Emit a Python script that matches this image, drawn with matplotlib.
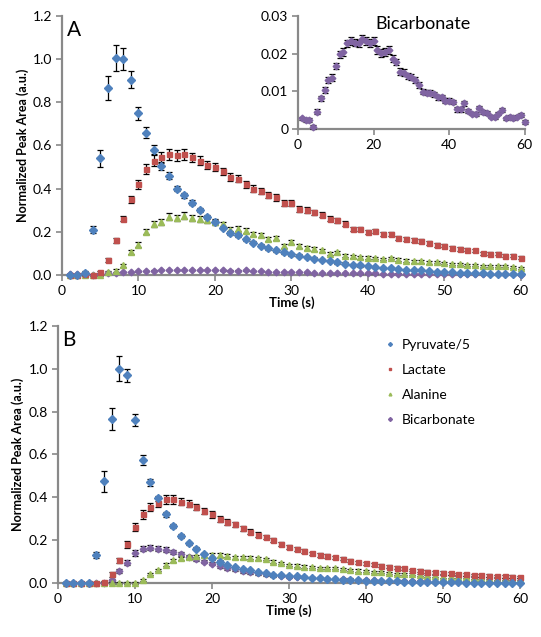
import numpy as np
import matplotlib.pyplot as plt
from matplotlib.lines import Line2D

plt.rcParams['font.family'] = ['Lato', 'DejaVu Sans']

# %% data
tt = np.arange(1, 61)

# panel A
pyr_A = [0.0, 0.0, 0.01, 0.21, 0.54, 0.865, 1.005, 1.0, 0.905, 0.75,
         0.66, 0.58, 0.505, 0.46, 0.40, 0.37, 0.335, 0.30, 0.27, 0.245,
         0.22, 0.195, 0.185, 0.165, 0.15, 0.135, 0.125, 0.115, 0.105, 0.097,
         0.09, 0.083, 0.076, 0.07, 0.064, 0.058, 0.053, 0.048, 0.044, 0.040,
         0.037, 0.034, 0.031, 0.028, 0.025, 0.023, 0.021, 0.018, 0.015, 0.013,
         0.012, 0.011, 0.009, 0.008, 0.007, 0.006, 0.005, 0.004, 0.004, 0.003]
pyr_A_err = [0.004, 0.004, 0.008, 0.015, 0.04, 0.055, 0.062, 0.05, 0.04, 0.03,
             0.025, 0.02, 0.018, 0.015, 0.012, 0.012, 0.012, 0.01, 0.01, 0.01,
             0.008, 0.008, 0.008, 0.008, 0.008, 0.007, 0.007, 0.007, 0.007, 0.007,
             0.006, 0.006, 0.006, 0.006, 0.006, 0.005, 0.005, 0.005, 0.005, 0.005,
             0.004, 0.004, 0.004, 0.004, 0.004, 0.004, 0.004, 0.004, 0.004, 0.004,
             0.004, 0.004, 0.004, 0.004, 0.004, 0.004, 0.004, 0.004, 0.004, 0.004]

lac_A = [0.0, 0.0, 0.005, 0.0, 0.015, 0.07, 0.16, 0.26, 0.35, 0.42,
         0.49, 0.53, 0.545, 0.56, 0.555, 0.56, 0.545, 0.53, 0.51, 0.50,
         0.48, 0.455, 0.445, 0.42, 0.40, 0.39, 0.37, 0.36, 0.335, 0.333,
         0.307, 0.30, 0.29, 0.28, 0.26, 0.253, 0.237, 0.213, 0.213, 0.199,
         0.205, 0.19, 0.19, 0.171, 0.166, 0.163, 0.156, 0.148, 0.14, 0.136,
         0.125, 0.12, 0.117, 0.114, 0.10, 0.099, 0.099, 0.089, 0.089, 0.079]
lac_A_err = [0.003, 0.003, 0.003, 0.003, 0.005, 0.008, 0.01, 0.012, 0.018, 0.02,
             0.022, 0.025, 0.025, 0.025, 0.025, 0.025, 0.022, 0.02, 0.02, 0.02,
             0.018, 0.018, 0.016, 0.016, 0.016, 0.015, 0.015, 0.015, 0.014, 0.014,
             0.013, 0.013, 0.012, 0.012, 0.012, 0.011, 0.011, 0.011, 0.01, 0.01,
             0.01, 0.01, 0.01, 0.009, 0.009, 0.009, 0.009, 0.009, 0.008, 0.008,
             0.008, 0.008, 0.008, 0.008, 0.008, 0.007, 0.007, 0.007, 0.007, 0.007]

ala_A = [0.0, 0.0, 0.0, 0.0, 0.0, 0.015, 0.02, 0.045, 0.105, 0.14,
         0.20, 0.235, 0.245, 0.27, 0.265, 0.275, 0.265, 0.26, 0.255, 0.245,
         0.235, 0.21, 0.215, 0.205, 0.19, 0.185, 0.166, 0.171, 0.133, 0.153,
         0.133, 0.125, 0.12, 0.114, 0.099, 0.105, 0.089, 0.086, 0.083, 0.08,
         0.079, 0.074, 0.079, 0.071, 0.066, 0.063, 0.063, 0.059, 0.059, 0.055,
         0.051, 0.051, 0.046, 0.047, 0.04, 0.042, 0.04, 0.04, 0.037, 0.032]
ala_A_err = [0.003, 0.003, 0.003, 0.003, 0.003, 0.005, 0.006, 0.008, 0.01, 0.012,
             0.012, 0.014, 0.015, 0.015, 0.015, 0.015, 0.014, 0.014, 0.013, 0.013,
             0.012, 0.012, 0.011, 0.011, 0.011, 0.01, 0.01, 0.01, 0.009, 0.009,
             0.009, 0.008, 0.008, 0.008, 0.008, 0.007, 0.007, 0.007, 0.007, 0.007,
             0.006, 0.006, 0.006, 0.006, 0.006, 0.006, 0.006, 0.006, 0.005, 0.005,
             0.005, 0.005, 0.005, 0.005, 0.005, 0.005, 0.005, 0.005, 0.005, 0.005]

bic_A = [0.0028, 0.0024, 0.0024, 0.0006, 0.0046, 0.0081, 0.0103, 0.013, 0.0136, 0.0167,
         0.0198, 0.0205, 0.0227, 0.0233, 0.0229, 0.0227, 0.024, 0.0234, 0.0228, 0.0233,
         0.0209, 0.0202, 0.0205, 0.0209, 0.0187, 0.0178, 0.0152, 0.0149, 0.014, 0.0139,
         0.013, 0.0116, 0.0099, 0.0096, 0.0096, 0.0092, 0.0084, 0.0084, 0.0075, 0.0075,
         0.0072, 0.0052, 0.0052, 0.0068, 0.0048, 0.0041, 0.004, 0.0057, 0.0046, 0.0043,
         0.0033, 0.0031, 0.0041, 0.005, 0.0028, 0.0033, 0.0028, 0.0033, 0.0037, 0.0019]
bic_A_err = [0.0005, 0.0005, 0.0005, 0.0005, 0.0006, 0.0007, 0.0008, 0.0008, 0.0009, 0.0009,
             0.0009, 0.001, 0.001, 0.001, 0.001, 0.001, 0.001, 0.001, 0.001, 0.001,
             0.001, 0.001, 0.001, 0.001, 0.0009, 0.0009, 0.0009, 0.0009, 0.0008, 0.0008,
             0.0008, 0.0008, 0.0007, 0.0007, 0.0007, 0.0007, 0.0007, 0.0007, 0.0006, 0.0006,
             0.0006, 0.0006, 0.0006, 0.0006, 0.0006, 0.0005, 0.0005, 0.0005, 0.0005, 0.0005,
             0.0005, 0.0005, 0.0005, 0.0005, 0.0005, 0.0005, 0.0005, 0.0005, 0.0005, 0.0005]

# panel B
pyr_B = [0.0, 0.0, 0.0, 0.0, 0.13, 0.475, 0.765, 1.0, 0.97, 0.76,
         0.575, 0.47, 0.395, 0.32, 0.265, 0.22, 0.185, 0.16, 0.135, 0.115,
         0.10, 0.085, 0.075, 0.065, 0.06, 0.05, 0.045, 0.038, 0.036, 0.034,
         0.031, 0.028, 0.025, 0.022, 0.019, 0.017, 0.015, 0.013, 0.012, 0.011,
         0.01, 0.009, 0.008, 0.007, 0.006, 0.005, 0.005, 0.004, 0.004, 0.003,
         0.003, 0.003, 0.002, 0.002, 0.002, 0.002, 0.001, 0.001, 0.001, 0.001]
pyr_B_err = [0.003, 0.003, 0.003, 0.003, 0.015, 0.049, 0.052, 0.058, 0.03, 0.027,
             0.023, 0.015, 0.012, 0.01, 0.009, 0.008, 0.007, 0.007, 0.006, 0.006,
             0.005, 0.005, 0.005, 0.005, 0.004, 0.004, 0.004, 0.004, 0.004, 0.004,
             0.003, 0.003, 0.003, 0.003, 0.003, 0.003, 0.003, 0.003, 0.003, 0.003,
             0.003, 0.003, 0.003, 0.003, 0.003, 0.003, 0.003, 0.003, 0.003, 0.003,
             0.003, 0.003, 0.003, 0.003, 0.003, 0.003, 0.003, 0.003, 0.003, 0.003]

lac_B = [0.0, 0.0, 0.0, 0.0, 0.0, 0.005, 0.04, 0.105, 0.18, 0.26,
         0.32, 0.355, 0.375, 0.39, 0.39, 0.38, 0.37, 0.355, 0.335, 0.32,
         0.30, 0.285, 0.275, 0.255, 0.24, 0.225, 0.216, 0.20, 0.182, 0.169,
         0.158, 0.149, 0.138, 0.13, 0.126, 0.12, 0.112, 0.104, 0.096, 0.092,
         0.087, 0.081, 0.076, 0.071, 0.068, 0.06, 0.057, 0.053, 0.05, 0.048,
         0.045, 0.042, 0.04, 0.037, 0.036, 0.034, 0.033, 0.031, 0.03, 0.028]
lac_B_err = [0.003, 0.003, 0.003, 0.003, 0.003, 0.005, 0.01, 0.012, 0.015, 0.018,
             0.02, 0.02, 0.02, 0.02, 0.02, 0.018, 0.017, 0.016, 0.015, 0.015,
             0.014, 0.013, 0.012, 0.012, 0.011, 0.011, 0.01, 0.01, 0.009, 0.009,
             0.009, 0.008, 0.008, 0.008, 0.008, 0.007, 0.007, 0.007, 0.007, 0.007,
             0.006, 0.006, 0.006, 0.006, 0.006, 0.006, 0.006, 0.006, 0.006, 0.006,
             0.006, 0.006, 0.006, 0.006, 0.006, 0.006, 0.006, 0.006, 0.006, 0.006]

ala_B = [0.0, 0.0, 0.0, 0.0, 0.0, 0.0, 0.0, 0.0, 0.0, 0.0,
         0.015, 0.04, 0.06, 0.085, 0.105, 0.115, 0.12, 0.125, 0.13, 0.13,
         0.13, 0.128, 0.12, 0.12, 0.118, 0.115, 0.112, 0.10, 0.093, 0.084,
         0.081, 0.076, 0.076, 0.071, 0.068, 0.071, 0.064, 0.06, 0.058, 0.057,
         0.053, 0.05, 0.045, 0.043, 0.042, 0.04, 0.037, 0.034, 0.033, 0.03,
         0.03, 0.028, 0.026, 0.025, 0.023, 0.022, 0.02, 0.02, 0.02, 0.02]
ala_B_err = [0.003, 0.003, 0.003, 0.003, 0.003, 0.003, 0.003, 0.003, 0.003, 0.003,
             0.004, 0.005, 0.006, 0.007, 0.008, 0.008, 0.008, 0.008, 0.008, 0.008,
             0.008, 0.007, 0.007, 0.007, 0.007, 0.007, 0.006, 0.006, 0.006, 0.006,
             0.006, 0.006, 0.005, 0.005, 0.005, 0.005, 0.005, 0.005, 0.005, 0.005,
             0.005, 0.005, 0.005, 0.005, 0.005, 0.005, 0.005, 0.005, 0.005, 0.005,
             0.005, 0.005, 0.005, 0.005, 0.005, 0.005, 0.005, 0.005, 0.005, 0.005]

bic_B = [0.0, 0.0, 0.0, 0.0, 0.0, 0.0, 0.015, 0.055, 0.095, 0.14,
         0.16, 0.165, 0.16, 0.155, 0.145, 0.135, 0.12, 0.11, 0.10, 0.09,
         0.08, 0.07, 0.065, 0.055, 0.05, 0.045, 0.04, 0.035, 0.033, 0.03,
         0.028, 0.026, 0.024, 0.022, 0.02, 0.019, 0.017, 0.016, 0.014, 0.013,
         0.012, 0.011, 0.01, 0.009, 0.009, 0.008, 0.007, 0.007, 0.006, 0.006,
         0.005, 0.005, 0.004, 0.004, 0.004, 0.003, 0.003, 0.002, 0.002, 0.002]
bic_B_err = [0.003, 0.003, 0.003, 0.003, 0.003, 0.003, 0.005, 0.008, 0.01, 0.012,
             0.012, 0.012, 0.012, 0.012, 0.011, 0.01, 0.01, 0.009, 0.009, 0.008,
             0.008, 0.008, 0.007, 0.007, 0.007, 0.006, 0.006, 0.006, 0.006, 0.006,
             0.005, 0.005, 0.005, 0.005, 0.005, 0.005, 0.005, 0.005, 0.005, 0.005,
             0.004, 0.004, 0.004, 0.004, 0.004, 0.004, 0.004, 0.004, 0.004, 0.004,
             0.004, 0.004, 0.004, 0.004, 0.004, 0.004, 0.004, 0.004, 0.004, 0.004]

labels = ['Pyruvate/5', 'Lactate', 'Alanine', 'Bicarbonate']

# %% estilos (Excel)
cols = ['#4F81BD', '#C0504D', '#9BBB59', '#8064A2']
mks = ['D', 's', '^', 'D']
mss = [4.2, 3.6, 4.4, 3.4]
gris = '#898989'


def estilo(ax, ymax, ystep, xstep, fmt):
    ax.set_xlim(0, 60)
    ax.set_ylim(0, ymax)
    ax.set_xticks(np.arange(0, 61, xstep))
    ax.set_yticks(np.arange(0, ymax + ystep / 2, ystep))
    ax.yaxis.set_major_formatter(plt.FormatStrFormatter(fmt))
    for s in ['top', 'right']:
        ax.spines[s].set_visible(False)
    for s in ['left', 'bottom']:
        ax.spines[s].set_color(gris)
        ax.spines[s].set_linewidth(1.6)
    ax.tick_params(direction='out', color=gris, width=1.2, length=4,
                   labelsize=10, pad=3)


def serie(ax, yy, ee, i, lab=None):
    ax.errorbar(tt, yy, yerr=ee, fmt=mks[i], color=cols[i], ms=mss[i],
                mec=cols[i], ecolor='black', elinewidth=0.9, capsize=2.2,
                capthick=0.9, label=lab, clip_on=False, zorder=3)


fig = plt.figure(figsize=(5.41, 6.37), dpi=100)

# panel A
axA = fig.add_axes([0.1146, 0.5683, 0.848, 0.4066])
series_A = [(pyr_A, pyr_A_err), (lac_A, lac_A_err), (ala_A, ala_A_err), (bic_A, bic_A_err)]
for i in [3, 2, 1, 0]:
    serie(axA, series_A[i][0], series_A[i][1], i)
estilo(axA, 1.2, 0.2, 10, '%.1f')
axA.set_xlabel('Time (s)', fontsize=9.5, fontweight='bold', labelpad=0)
axA.set_ylabel('Normalized Peak Area (a.u.)', fontsize=9, fontweight='bold', labelpad=3)
axA.text(0.01, 0.985, 'A', transform=axA.transAxes, fontsize=15, va='top', ha='left')

# inset
axI = fig.add_axes([0.551, 0.7975, 0.419, 0.1774])
axI.patch.set_facecolor('white')
serie(axI, bic_A, bic_A_err, 3)
estilo(axI, 0.03, 0.01, 20, '%g')
axI.text(0.55, 1.0, 'Bicarbonate', transform=axI.transAxes, fontsize=13,
         ha='center', va='top')

# panel B
axB = fig.add_axes([0.107, 0.0848, 0.854, 0.4034])
series_B = [(pyr_B, pyr_B_err), (lac_B, lac_B_err), (ala_B, ala_B_err), (bic_B, bic_B_err)]
for i in [3, 2, 1, 0]:
    serie(axB, series_B[i][0], series_B[i][1], i, labels[i])
estilo(axB, 1.2, 0.2, 10, '%.1f')
axB.set_xlabel('Time (s)', fontsize=9.5, fontweight='bold', labelpad=0)
axB.set_ylabel('Normalized Peak Area (a.u.)', fontsize=9, fontweight='bold', labelpad=3)
axB.text(0.01, 0.985, 'B', transform=axB.transAxes, fontsize=15, va='top', ha='left')

# leyenda solo marcadores
hh = [Line2D([], [], ls='', marker=mks[i], color=cols[i], ms=2.0) for i in range(4)]
axB.legend(hh, labels, loc='upper left', bbox_to_anchor=(0.685, 1.0), frameon=False,
           fontsize=10, handlelength=0.5, handletextpad=0.6, labelspacing=0.95)

fig.savefig('out.png', dpi=100)
